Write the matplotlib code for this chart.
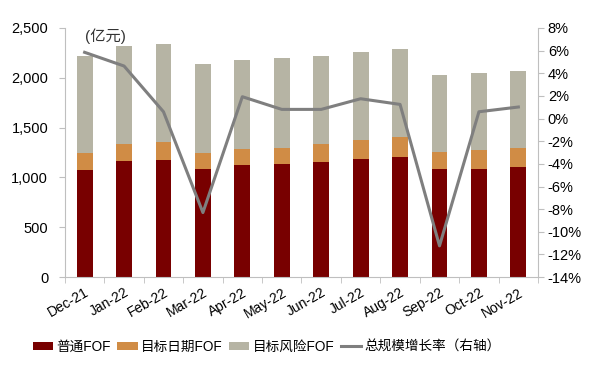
import matplotlib
matplotlib.use("Agg")
import matplotlib.pyplot as plt
from matplotlib.ticker import FuncFormatter, MultipleLocator
import numpy as np

plt.rcParams['font.family'] = ['Liberation Sans', 'Noto Sans CJK SC', 'DejaVu Sans']

months = ["Dec-21", "Jan-22", "Feb-22", "Mar-22", "Apr-22", "May-22",
          "Jun-22", "Jul-22", "Aug-22", "Sep-22", "Oct-22", "Nov-22"]
putong = [1074, 1165, 1178, 1088, 1128, 1135, 1151, 1181, 1208, 1084, 1088, 1108]
mubiao_riqi = [171, 170, 174, 157, 157, 157, 187, 191, 200, 174, 184, 184]
mubiao_fengxian = [974, 984, 984, 897, 894, 907, 881, 884, 881, 773, 773, 773]
growth = [5.85, 4.64, 0.6, -8.3, 1.93, 0.81, 0.81, 1.75, 1.25, -11.24, 0.6, 1.02]

c_red = "#780000"
c_orange = "#D08C45"
c_grey = "#B6B4A4"
c_line = "#7F7F7F"
c_spine = "#BFBFBF"

fig = plt.figure(figsize=(5.9, 3.68), dpi=100)
ax = fig.add_axes([0.110, 0.247, 0.802, 0.677])
x = np.arange(len(months))
w = 0.4
b1 = ax.bar(x, putong, w, color=c_red, label="普通FOF")
bottom2 = np.array(putong)
b2 = ax.bar(x, mubiao_riqi, w, bottom=bottom2, color=c_orange, label="目标日期FOF")
bottom3 = bottom2 + np.array(mubiao_riqi)
b3 = ax.bar(x, mubiao_fengxian, w, bottom=bottom3, color=c_grey, label="目标风险FOF")

ax.set_xlim(-0.5, len(months) - 0.5)
ax.set_ylim(0, 2500)
ax.yaxis.set_major_locator(MultipleLocator(500))
ax.yaxis.set_major_formatter(FuncFormatter(lambda v, p: f"{int(v):,}"))
ax.set_xticks(x)
ax.set_xticklabels(months, rotation=30, ha="right", rotation_mode="anchor")
ax.set_xticks(np.arange(-0.5, len(months) + 0.5, 1), minor=True)
ax.tick_params(axis="x", which="major", length=0, pad=6, labelsize=10)
ax.tick_params(axis="x", which="minor", length=4, color=c_spine, direction="out")
ax.tick_params(axis="y", length=4, color=c_spine, labelsize=10.5, pad=8)
for s in ["top", "right"]:
    ax.spines[s].set_visible(False)
for s in ["left", "bottom"]:
    ax.spines[s].set_color(c_spine)

ax2 = ax.twinx()
l1, = ax2.plot(x, growth, color=c_line, lw=2.2, label="总规模增长率（右轴）")
ax2.set_ylim(-14, 8)
ax2.yaxis.set_major_locator(MultipleLocator(2))
ax2.yaxis.set_major_formatter(FuncFormatter(lambda v, p: f"{int(round(v))}%"))
ax2.tick_params(axis="y", length=4, color=c_spine, labelsize=10.5, pad=3)
for s in ["top", "left", "bottom"]:
    ax2.spines[s].set_visible(False)
ax2.spines["right"].set_color(c_spine)

ax.text(0.042, 0.935, "(亿元)", transform=ax.transAxes, fontsize=11,
        ha="left", va="bottom", color="#333333")

fig.legend(handles=[b1, b2, b3, l1], loc="lower center", ncol=4,
           bbox_to_anchor=(0.452, 0.005), frameon=False, fontsize=9.8,
           handlelength=1.5, handleheight=0.55, handletextpad=0.25,
           columnspacing=0.45)

fig.savefig("out.png", dpi=100)
